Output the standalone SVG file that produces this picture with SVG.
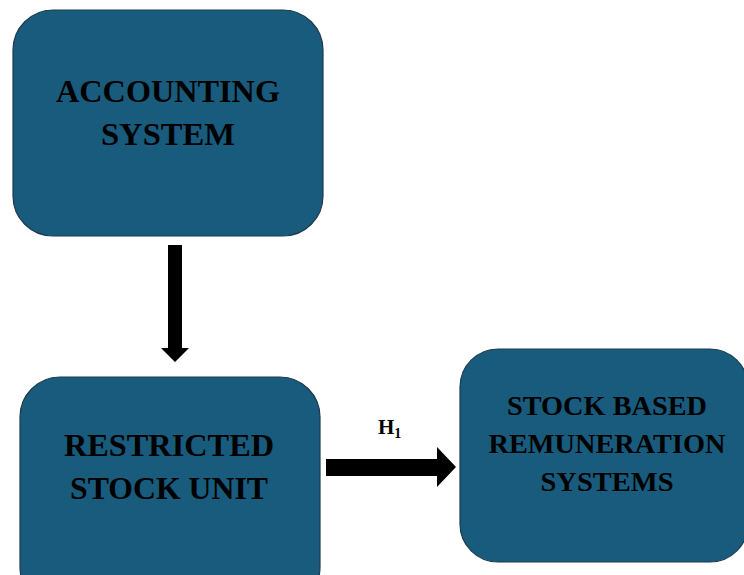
<svg xmlns="http://www.w3.org/2000/svg" width="744" height="575" viewBox="0 0 744 575">
<style>
.box{fill:#185b7c;stroke:#1d3a4c;stroke-width:1.2}
.t{font-family:"Liberation Serif","Times New Roman",serif;font-weight:bold;fill:#000;text-anchor:middle}
.big{font-size:31px}
.mid{font-size:27px}
</style>
<rect width="744" height="575" fill="#fff"/>
<g id="accounting">
<rect class="box" x="13" y="10" width="310" height="226" rx="40"/>
<text class="t big" x="168" y="102" textLength="224" lengthAdjust="spacingAndGlyphs">ACCOUNTING</text>
<text class="t big" x="168" y="145" textLength="134" lengthAdjust="spacingAndGlyphs">SYSTEM</text>
</g>
<g id="rsu">
<rect class="box" x="20" y="377" width="300" height="230" rx="40"/>
<text class="t big" x="169" y="456" textLength="210" lengthAdjust="spacingAndGlyphs">RESTRICTED</text>
<text class="t big" x="169" y="499" textLength="198" lengthAdjust="spacingAndGlyphs">STOCK UNIT</text>
</g>
<g id="sbrs">
<rect class="box" x="460" y="349" width="288" height="213" rx="38"/>
<text class="t mid" x="607" y="415" textLength="200" lengthAdjust="spacingAndGlyphs">STOCK BASED</text>
<text class="t mid" x="607" y="453" textLength="237" lengthAdjust="spacingAndGlyphs">REMUNERATION</text>
<text class="t mid" x="607" y="491" textLength="133" lengthAdjust="spacingAndGlyphs">SYSTEMS</text>
</g>
<g id="connectors">
<polygon points="168,245 182,245 182,348 189,348 175,362 161,348 168,348" fill="#000"/>
<polygon points="326,459 437,459 437,447 456,467 437,487 437,476 326,476" fill="#000"/>
<text class="t" x="378" y="434" font-size="21" style="text-anchor:start">H<tspan font-size="14" dy="4">1</tspan></text>
</g>
</svg>
